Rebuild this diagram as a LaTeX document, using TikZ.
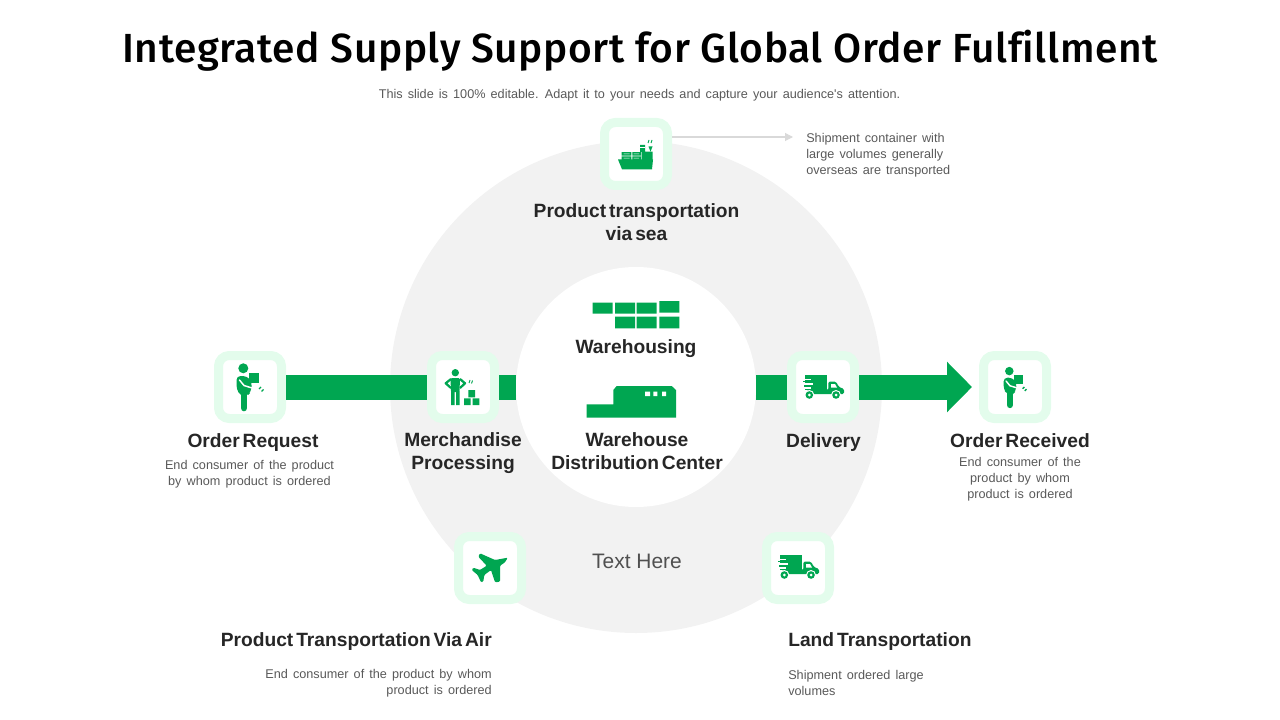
\documentclass[tikz,border=0pt]{standalone}
\usepackage{xcolor}
\usepackage{fontspec}
\setmainfont[BoldFeatures={WordSpace=0.55}]{Liberation Sans}
\newfontfamily\titlefont[LetterSpace=1.45, Ligatures=NoCommon]{Fira Sans Medium}
\newfontfamily\notefont[WordSpace=1.45]{Liberation Sans}
\usetikzlibrary{arrows.meta}
\definecolor{leaf}{HTML}{00A651}
\definecolor{mint}{HTML}{E3FCEC}
\definecolor{ringgray}{HTML}{F2F2F2}
\definecolor{ink}{HTML}{262626}
\definecolor{notegray}{HTML}{595959}
\tikzset{
    pics/carrier/.style={code={
        \fill[leaf] (-6.7,-18.7) circle (5);
        \fill[leaf, rounded corners=3] (-13.5,-11) -- (-3,-11) -- (2,-5) -- (1,5) -- (-3,9) -- (-9.5,9) -- (-13.5,2) -- cycle;
        \draw[leaf, line width=5pt, line cap=round] (-6,6) -- (-6,21);
        \draw[white, line width=1.1pt, line cap=round] (-10.5,-7) -- (-6,-1.5) -- (2,1);
        \fill[leaf] (-1,-14) rectangle (9,-4);
        \draw[leaf, line width=1pt] (9,2) -- (11,0) (11.5,4.5) -- (13.5,2.5);
    }},
    pics/stacker/.style={code={
        \fill[leaf] (-7.7,-14.3) circle (3.7);
        \fill[leaf, rounded corners=1] (-12.5,-9) -- (-3,-9) -- (-3.5,5) -- (-12,5) -- cycle;
        \draw[leaf, line width=1.7pt, line join=round] (-12,-8) -- (-17.3,-3.7) -- (-12,1) (-3,-8) -- (2,-3.7) -- (-3,1);
        \fill[leaf] (-12,4) rectangle (-8.5,18) (-7,4) rectangle (-3.5,18);
        \fill[leaf] (5.3,3) rectangle (12,10.3) (1,11.3) rectangle (7.7,18) (9.7,11.3) rectangle (16.3,18);
        \draw[leaf, line width=.7pt] (6,-4) -- (7,-7) (8.5,-3.5) -- (9.5,-6.5);
    }},
    pics/lorry/.style={code={
        \fill[leaf] (-18,-12) -- (4.3,-12) -- (4.3,3) -- (-18,3) -- cycle;
        \fill[leaf, rounded corners=1] (-16,3) -- (5.3,3) -- (5.3,-5.3) -- (13,-5.3) -- (16,0) -- (21,2) -- (21,7) -- (-16,7) -- cycle;
        \fill[white] (8,-3) -- (12,-3) -- (14,0.5) -- (8,0.5) -- cycle;
        \draw[white, line width=1pt] (-19,-7.5) -- (-12,-7.5) (-19,-3) -- (-10,-3) (-19,1) -- (-12,1);
        \draw[leaf, line width=1.1pt] (-20,-5.3) -- (-14,-5.3) (-19,-1) -- (-13,-1);
        \fill[white] (-13.7,8) circle (5) (13,8) circle (5);
        \fill[leaf] (-13.7,8) circle (3.8) (13,8) circle (3.8);
        \fill[white] (-13.7,8) circle (1.5) (13,8) circle (1.5);
    }},
    pics/vessel/.style={code={
        \fill[leaf] (-18,5.5) -- (17,5.5) -- (16,15.3) -- (-14,15.3) -- cycle;
        \fill[leaf] (-14.3,-1.8) rectangle (-4.6,1.7) (-3.6,-1.8) rectangle (5,1.7) (-14.3,2.5) rectangle (-4.6,6) (-3.6,2.5) rectangle (5,6);
        \fill[white] (-12.5,-.3) rectangle (-6.5,.2) (-2.5,-.3) rectangle (3,.2) (-12.5,3.8) rectangle (-6.5,4.3) (-2.5,3.8) rectangle (3,4.3);
        \fill[leaf] (5.7,-2.3) rectangle (16.7,6) (4,-9) rectangle (9,-2);
        \fill[white] (4,-6.5) rectangle (9,-5.9);
        \draw[leaf, line width=.7pt] (12,-11) -- (13,-14) (15,-11) -- (16,-14);
        \fill[leaf] (12.5,-7.5) -- (16.5,-7.5) -- (14.5,-2.3) -- cycle;
    }},
    pics/airliner/.style={code={
        \fill[leaf, rounded corners=.8] (17.7,-10.3) -- (5,-8) -- (-10,-14.7) -- (-11.7,-11.3) -- (-3.3,-2.3) -- (-10,2) -- (-16.7,-0.3) -- (-18.3,2) -- (-12.3,7) -- (-9,14.3) -- (-6.7,13.7) -- (-5.7,7) -- (1,2) -- (5,14.3) -- (10,13.7) -- (10,-2.3) -- (15,-5.7) -- cycle;
    }},
    tile/.style={draw=mint, line width=6.75pt, fill=white, rounded corners=8pt, minimum size=47.25pt, inner sep=0pt},
    headlabel/.style={font=\bfseries\fontsize{14.4}{17.25}\selectfont, text=ink, align=center, inner sep=0pt},
    notelabel/.style={font=\notefont\fontsize{9.5}{12}\selectfont, text=notegray, align=center, inner sep=0pt},
    band/.style={draw=leaf, line width=18.75pt}
}
\begin{document}
\begin{tikzpicture}[x=0.75pt, y=-0.75pt]
\useasboundingbox (0,0) rectangle (1280,720);

\node[circle, fill=ringgray, minimum size=369pt, inner sep=0pt] (ring) at (636,387) {};
\node[circle, fill=white, minimum size=180pt, inner sep=0pt] (hub) at (636,387) {};

\node[tile] (request) at (250,387) {};
\node[tile] (merch) at (463,387) {};
\node[tile] (delivery) at (823,387) {};
\node[tile] (received) at (1015,387) {};
\node[tile] (ship) at (636,154) {};
\node[tile] (plane) at (490,568) {};
\node[tile] (truck) at (798,568) {};
\coordinate (shipnote) at (793,137);

\draw[band] (request.east) -- (merch.west);
\draw[band] (merch.east) -- (hub.west);
\draw[band] (hub.east) -- (delivery.west);
\draw[band, shorten >=5.25pt, -{Triangle[length=18.75pt, width=36.75pt]}] (delivery.east) -- (received.west);
\draw[draw=black!15, line width=.8pt, -{Triangle[length=6pt, width=6pt, fill=black!15]}] (ship.east |- shipnote) -- (shipnote);

\pic at (request) {carrier};
\pic at (merch) {stacker};
\pic at (delivery) {lorry};
\pic[scale=.85] at (received) {carrier};
\pic at (ship) {vessel};
\pic at (plane) {airliner};
\pic[yshift=.75pt] at (truck) {lorry};

% warehouse shapes in the hub
\fill[leaf] (592.7,302.5) rectangle (612.7,313.5) (615,302.5) rectangle (635,313.5) (636.7,302.5) rectangle (656.7,313.5) (659.3,301) rectangle (679.3,312.5);
\fill[leaf] (615,316.7) rectangle (635,328.3) (636.7,316.7) rectangle (656.7,328.3) (659.3,316.7) rectangle (679.3,328.3);
\fill[leaf] (586.7,404.3) -- (613.3,404.3) -- (613.3,390) -- (616.7,386) -- (671.7,386) -- (676,390) -- (676,417.7) -- (586.7,417.7) -- cycle;
\fill[white] (645,391.7) rectangle (650,396) (653.3,391.7) rectangle (657.3,396) (662,391.7) rectangle (666,396);

\node[font=\titlefont\fontsize{30.5}{36}\selectfont, text=black, inner sep=0pt] (title) at (640,51) {Integrated Supply Support for Global Order Fulfillment};
\node[notelabel] (subtitle) at (639.5,95) {This slide is 100\% editable. Adapt it to your needs and capture your audience's attention.};

\node[headlabel] (shiplabel) at (636.5,222.5) {Product transportation\\via sea};
\node[headlabel] (storelabel) at (636,349) {Warehousing};
\node[headlabel] (centerlabel) at (637,451) {Warehouse\\Distribution Center};
\node[headlabel] (requestlabel) at (253,443) {Order Request};
\node[headlabel] (merchlabel) at (463,453.5) {Merchandise\\Processing};
\node[headlabel] (deliverylabel) at (823.5,443) {Delivery};
\node[headlabel] (receivedlabel) at (1020,441) {Order Received};
\node[headlabel, anchor=east] (planelabel) at (492,642) {Product Transportation Via Air};
\node[headlabel, anchor=west] (trucklabel) at (788,642) {Land Transportation};

\node[notelabel, align=left, anchor=west] (shipnotetext) at (806,155) {Shipment container with\\large volumes generally\\overseas are transported};
\node[notelabel] (requestnote) at (249.5,474) {End consumer of the product\\by whom product is ordered};
\node[notelabel] (receivednote) at (1020,479) {End consumer of the\\product by whom\\product is ordered};
\node[notelabel, align=right, anchor=east] (planenote) at (492,683) {End consumer of the product by whom\\product is ordered};
\node[notelabel, align=left, anchor=west] (trucknote) at (788,683) {Shipment ordered large\\volumes};
\node[font=\fontsize{15.7}{18}\selectfont, text=notegray!90!black, inner sep=0pt] (ringtext) at (637,561) {Text Here};
\end{tikzpicture}
\end{document}
